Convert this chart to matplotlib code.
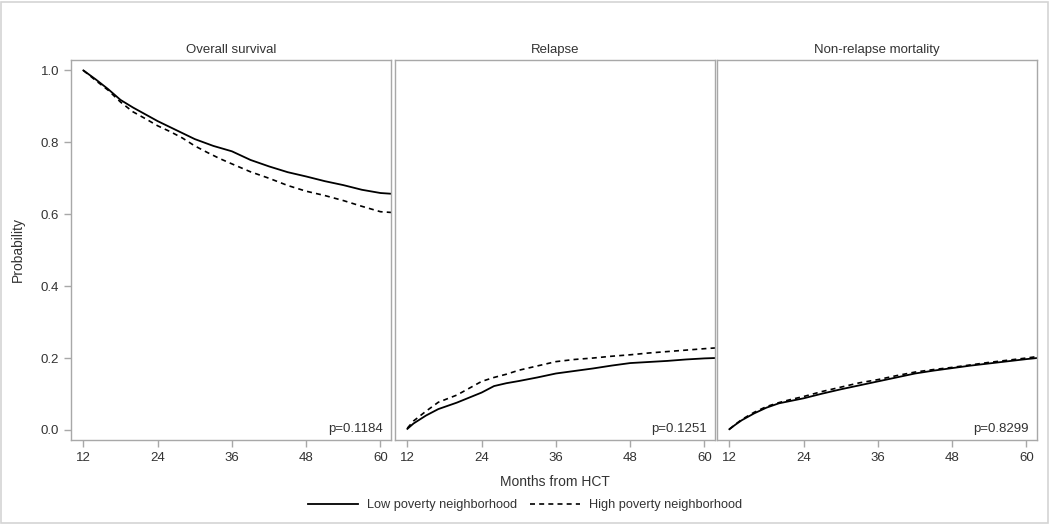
import matplotlib
matplotlib.use("Agg")
import matplotlib.pyplot as plt
from matplotlib.patches import Rectangle

plt.rcParams['font.family'] = ['Liberation Sans', 'DejaVu Sans']

# values (months from HCT, probability)
os_months_low = [12, 14, 16, 18, 20, 22, 24, 27, 30, 33, 36, 39, 42, 45, 48, 51, 54, 57, 60, 61.7]
os_low = [1.0, 0.975, 0.948, 0.918, 0.897, 0.878, 0.859, 0.834, 0.809, 0.790, 0.775, 0.751, 0.733, 0.717, 0.705, 0.692, 0.681, 0.668, 0.659, 0.657]
os_months_high = [12, 14, 16, 18, 20, 22, 24, 26, 28, 30, 32, 34, 36, 39, 42, 45, 48, 51, 54, 57, 60, 61.7]
os_high = [1.0, 0.972, 0.945, 0.912, 0.885, 0.866, 0.846, 0.830, 0.812, 0.790, 0.772, 0.755, 0.740, 0.718, 0.700, 0.680, 0.664, 0.652, 0.638, 0.622, 0.607, 0.605]

rel_months = [12, 13, 15, 17, 20, 22, 24, 26, 28, 30, 33, 36, 39, 42, 45, 48, 51, 54, 57, 60, 61.7]
rel_low = [0.003, 0.018, 0.040, 0.058, 0.076, 0.090, 0.104, 0.122, 0.130, 0.136, 0.146, 0.157, 0.164, 0.171, 0.179, 0.186, 0.189, 0.192, 0.196, 0.199, 0.200]
rel_high = [0.005, 0.025, 0.052, 0.077, 0.097, 0.116, 0.135, 0.146, 0.155, 0.166, 0.178, 0.190, 0.196, 0.200, 0.205, 0.209, 0.214, 0.218, 0.222, 0.226, 0.228]

nrm_months = [12, 13, 14, 16, 18, 20, 22, 24, 27, 30, 33, 36, 39, 42, 45, 48, 51, 54, 57, 60, 61.7]
nrm_low = [0.002, 0.015, 0.027, 0.046, 0.062, 0.074, 0.081, 0.088, 0.101, 0.113, 0.124, 0.135, 0.146, 0.157, 0.165, 0.172, 0.179, 0.185, 0.191, 0.197, 0.200]
nrm_high = [0.002, 0.016, 0.029, 0.049, 0.065, 0.076, 0.085, 0.093, 0.107, 0.119, 0.131, 0.140, 0.151, 0.161, 0.168, 0.174, 0.181, 0.188, 0.194, 0.200, 0.204]

titles = ['Overall survival', 'Relapse', 'Non-relapse mortality']
pvalues = ['p=0.1184', 'p=0.1251', 'p=0.8299']
xticks = [12, 24, 36, 48, 60]
yticks = [0.0, 0.2, 0.4, 0.6, 0.8, 1.0]
labels = ['Low poverty neighborhood', 'High poverty neighborhood']

panels = [
    (os_months_low, os_low, os_months_high, os_high),
    (rel_months, rel_low, rel_months, rel_high),
    (nrm_months, nrm_low, nrm_months, nrm_high),
]

W, H = 1050, 525
fig = plt.figure(figsize=(10.5, 5.25), dpi=100)
fig.patches.append(Rectangle((1 / W, 2 / H), 1 - 3 / W, 1 - 4 / H, transform=fig.transFigure,
                             fill=False, ec='#d4d4d4', lw=1.2))

lefts = [71, 395, 717]
frame = '#a8a8a8'
txt = '#333333'
dash = (0, (3, 2.5))

for i, (left, (xl, yl, xh, yh)) in enumerate(zip(lefts, panels)):
    ax = fig.add_axes([left / W, 1 - 440 / H, 320 / W, 380 / H])
    l1, = ax.plot(xl, yl, color='black', lw=1.3)
    l2, = ax.plot(xh, yh, color='black', lw=1.2, linestyle=dash)
    ax.set_xlim(10, 61.7)
    ax.set_ylim(-0.028, 1.029)
    ax.set_xticks(xticks)
    ax.set_yticks(yticks)
    ax.set_yticklabels(['%.1f' % v for v in yticks])
    for s in ax.spines.values():
        s.set_color(frame)
        s.set_linewidth(1.0)
    ax.tick_params(colors=frame, labelcolor=txt, labelsize=9.5, length=5, width=1)
    if i > 0:
        ax.tick_params(axis='y', left=False, labelleft=False)
    ax.set_title(titles[i], fontsize=9.5, color=txt, pad=5)
    ax.text(1 - 8 / 320, 5 / 380, pvalues[i], transform=ax.transAxes, ha='right', va='bottom',
            fontsize=9.5, color=txt)

fig.text(18 / W, 1 - 250 / H, 'Probability', rotation=90, ha='center', va='center', fontsize=10, color=txt)
fig.text(555 / W, 1 - 482 / H, 'Months from HCT', ha='center', va='center', fontsize=10, color=txt)
fig.legend([l1, l2], labels, loc='center', bbox_to_anchor=(525 / W, 1 - 505 / H), ncol=2, frameon=False,
           fontsize=9.2, handlelength=3.9, columnspacing=1.0, handletextpad=0.7, labelcolor=txt)

fig.savefig('out.png', dpi=100)
